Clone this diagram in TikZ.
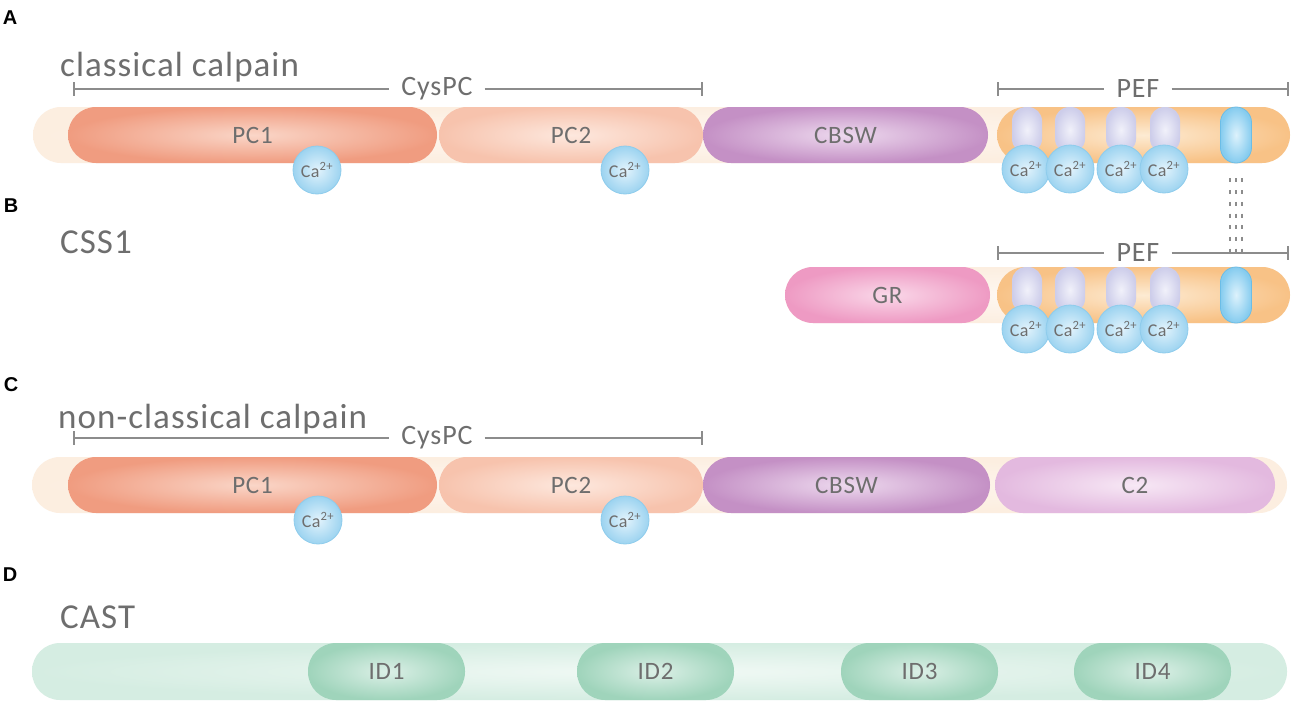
\documentclass[tikz,border=0pt]{standalone}
\usepackage{fontspec}
\setmainfont{Carlito}[LetterSpace=3]
\newfontfamily\lblfont{Liberation Sans}
\usetikzlibrary{calc}
\definecolor{txt}{HTML}{6E6E6E}
\definecolor{brkc}{HTML}{8C8C8C}
\definecolor{creamO}{HTML}{FCEEE0}
\definecolor{creamI}{HTML}{FEF8F2}
\definecolor{pconeO}{HTML}{F09C80}
\definecolor{pconeI}{HTML}{FAD6C8}
\definecolor{pctwoO}{HTML}{F7C3AD}
\definecolor{pctwoI}{HTML}{FDE8DE}
\definecolor{cbswO}{HTML}{C490C5}
\definecolor{cbswI}{HTML}{EDD9EE}
\definecolor{ctwoO}{HTML}{E3B9DF}
\definecolor{ctwoI}{HTML}{F7E8F5}
\definecolor{grO}{HTML}{EE9AC3}
\definecolor{grI}{HTML}{FAD8E9}
\definecolor{pefO}{HTML}{F8C286}
\definecolor{pefI}{HTML}{FDEBD3}
\definecolor{lavO}{HTML}{CDCDEA}
\definecolor{lavI}{HTML}{F1F1FA}
\definecolor{caO}{HTML}{9CD3F0}
\definecolor{caI}{HTML}{E2F3FC}
\definecolor{caB}{HTML}{8ECCEC}
\definecolor{ovO}{HTML}{86CCEF}
\definecolor{ovI}{HTML}{DDF2FC}
\definecolor{ovB}{HTML}{6CBDE6}
\definecolor{castO}{HTML}{D5EDE2}
\definecolor{castI}{HTML}{F1F9F5}
\definecolor{idO}{HTML}{9FD4BB}
\definecolor{idI}{HTML}{DCF0E7}
\newcommand{\domfont}{\fontsize{25}{28}\selectfont}
\newcommand{\titfont}{\fontsize{35}{40}\selectfont}
\newcommand{\cafont}{\fontsize{18}{20}\selectfont}
\newcommand{\brkfont}{\fontsize{28}{32}\selectfont}
\begin{document}
\begin{tikzpicture}[x=1pt,y=-1pt,
  dom/.style 2 args={rectangle, rounded corners=28pt, minimum height=56pt,
    inner sep=0pt, outer color=#1, inner color=#2, text=txt, font=\domfont},
  lav/.style={rectangle, rounded corners=14pt, minimum width=30pt,
    minimum height=46pt, inner sep=0pt, outer color=lavO, inner color=lavI},
  ca/.style={circle, minimum size=48pt, inner sep=0pt, draw=caB,
    line width=0.8pt, outer color=caO, inner color=caI, text=txt, font=\cafont},
  oval/.style={rectangle, rounded corners=15.5pt, minimum width=31pt,
    minimum height=56pt, inner sep=0pt, draw=ovB, line width=0.8pt,
    outer color=ovO, inner color=ovI},
  brk/.style={draw=brkc, line width=1.8pt},
  brktxt/.style={text=txt, font=\brkfont, inner xsep=12pt, inner ysep=0pt},
  title/.style={anchor=base west, text=txt, font=\titfont, inner sep=0pt},
  panel/.style={text=black, font=\lblfont\bfseries\fontsize{20}{22}\selectfont, inner sep=0pt},
  dots/.style={draw=brkc, line width=2pt, dash pattern=on 4pt off 7.7pt}
]
\path[use as bounding box, fill=white] (0,0) rectangle (1300,709);

% ---------- panel letters ----------
\node[panel] (lA) at (10,18) {A};
\node[panel] (lB) at (11,206) {B};
\node[panel] (lC) at (11,385) {C};
\node[panel] (lD) at (10,575) {D};

% ---------- A: classical calpain ----------
\node[title] (tA) at (60,76) {classical calpain};
\node[dom={creamO}{creamI}, minimum width=1257pt] (bbA) at (661.5,135) {};
\node[dom={pconeO}{pconeI}, minimum width=369pt] (pc1A) at (252.5,135) {PC1};
\node[dom={pctwoO}{pctwoI}, minimum width=264pt] (pc2A) at (571,135) {PC2};
\node[dom={cbswO}{cbswI}, minimum width=285pt] (cbswA) at (845.5,135) {CBSW};
\node[dom={pefO}{pefI}, minimum width=293pt] (pefA) at (1143.5,135) {};
\node[lav] (lA1) at (1027,130) {};
\node[lav] (lA2) at (1070,130) {};
\node[lav] (lA3) at (1121,130) {};
\node[lav] (lA4) at (1165,130) {};
\node[ca] (cA1) at (1026,169) {Ca\textsuperscript{2+}};
\node[ca] (cA2) at (1070,169) {Ca\textsuperscript{2+}};
\node[ca] (cA3) at (1121,169) {Ca\textsuperscript{2+}};
\node[ca] (cA4) at (1164,169) {Ca\textsuperscript{2+}};
\node[ca] (cpA1) at (317,170) {Ca\textsuperscript{2+}};
\node[ca] (cpA2) at (625,170) {Ca\textsuperscript{2+}};
\node[oval] (ovA) at (1236,135) {};
% brackets A
\coordinate (cysAL) at (74,89);
\coordinate (cysAR) at (702,89);
\node[brktxt] (cysA) at (437,89) {CysPC};
\draw[brk] (cysAL) -- (cysAL -| cysA.west);
\draw[brk] (cysAR -| cysA.east) -- (cysAR);
\draw[brk] ([yshift=7pt]cysAL) -- ([yshift=-7pt]cysAL);
\draw[brk] ([yshift=7pt]cysAR) -- ([yshift=-7pt]cysAR);
\coordinate (pefAL) at (998,89);
\coordinate (pefAR) at (1288,89);
\node[brktxt] (pefAT) at (1138,89) {PEF};
\draw[brk] (pefAL) -- (pefAL -| pefAT.west);
\draw[brk] (pefAR -| pefAT.east) -- (pefAR);
\draw[brk] ([yshift=7pt]pefAL) -- ([yshift=-7pt]pefAL);
\draw[brk] ([yshift=7pt]pefAR) -- ([yshift=-7pt]pefAR);

% ---------- B: CSS1 ----------
\node[title] (tB) at (60,253) {CSS1};
\node[dom={creamO}{creamI}, minimum width=505pt] (bbB) at (1037.5,295) {};
\node[dom={grO}{grI}, minimum width=205pt] (grB) at (887.5,295) {GR};
\node[dom={pefO}{pefI}, minimum width=293pt] (pefB) at (1143.5,295) {};
\node[lav] (lB1) at (1027,290) {};
\node[lav] (lB2) at (1070,290) {};
\node[lav] (lB3) at (1121,290) {};
\node[lav] (lB4) at (1165,290) {};
\node[ca] (cB1) at (1026,329) {Ca\textsuperscript{2+}};
\node[ca] (cB2) at (1070,329) {Ca\textsuperscript{2+}};
\node[ca] (cB3) at (1121,329) {Ca\textsuperscript{2+}};
\node[ca] (cB4) at (1164,329) {Ca\textsuperscript{2+}};
\node[oval] (ovB) at (1236,295) {};
\coordinate (pefBL) at (998,253);
\coordinate (pefBR) at (1288,253);
\node[brktxt] (pefBT) at (1138,253) {PEF};
\draw[brk] (pefBL) -- (pefBL -| pefBT.west);
\draw[brk] (pefBR -| pefBT.east) -- (pefBR);
\draw[brk] ([yshift=7pt]pefBL) -- ([yshift=-7pt]pefBL);
\draw[brk] ([yshift=7pt]pefBR) -- ([yshift=-7pt]pefBR);

% dotted link between the two ovals
\foreach \dx in {-6,0,6} {
  \draw[dots, shorten <=15pt, shorten >=15pt]
    ([xshift=\dx pt]ovA.south) -- ([xshift=\dx pt]ovB.north);
}

% ---------- C: non-classical calpain ----------
\node[title] (tC) at (58,428) {non-classical calpain};
\node[dom={creamO}{creamI}, minimum width=1255pt] (bbC) at (659.5,485) {};
\node[dom={pconeO}{pconeI}, minimum width=369pt] (pc1C) at (252.5,485) {PC1};
\node[dom={pctwoO}{pctwoI}, minimum width=264pt] (pc2C) at (571,485) {PC2};
\node[dom={cbswO}{cbswI}, minimum width=287pt] (cbswC) at (846.5,485) {CBSW};
\node[dom={ctwoO}{ctwoI}, minimum width=280pt] (c2C) at (1135,485) {C2};
\node[ca] (cpC1) at (318,520) {Ca\textsuperscript{2+}};
\node[ca] (cpC2) at (625,520) {Ca\textsuperscript{2+}};
\coordinate (cysCL) at (74,438);
\coordinate (cysCR) at (702,438);
\node[brktxt] (cysC) at (437,438) {CysPC};
\draw[brk] (cysCL) -- (cysCL -| cysC.west);
\draw[brk] (cysCR -| cysC.east) -- (cysCR);
\draw[brk] ([yshift=7pt]cysCL) -- ([yshift=-7pt]cysCL);
\draw[brk] ([yshift=7pt]cysCR) -- ([yshift=-7pt]cysCR);

% ---------- D: CAST ----------
\node[title] (tD) at (60,628) {CAST};
\node[dom={castO}{castI}, minimum width=1255pt, minimum height=57pt] (bbD) at (659.5,671.5) {};
\node[dom={idO}{idI}, minimum width=157pt, minimum height=57pt] (id1) at (386.5,671.5) {ID1};
\node[dom={idO}{idI}, minimum width=157pt, minimum height=57pt] (id2) at (655.5,671.5) {ID2};
\node[dom={idO}{idI}, minimum width=157pt, minimum height=57pt] (id3) at (919.5,671.5) {ID3};
\node[dom={idO}{idI}, minimum width=157pt, minimum height=57pt] (id4) at (1152.5,671.5) {ID4};
\end{tikzpicture}
\end{document}
